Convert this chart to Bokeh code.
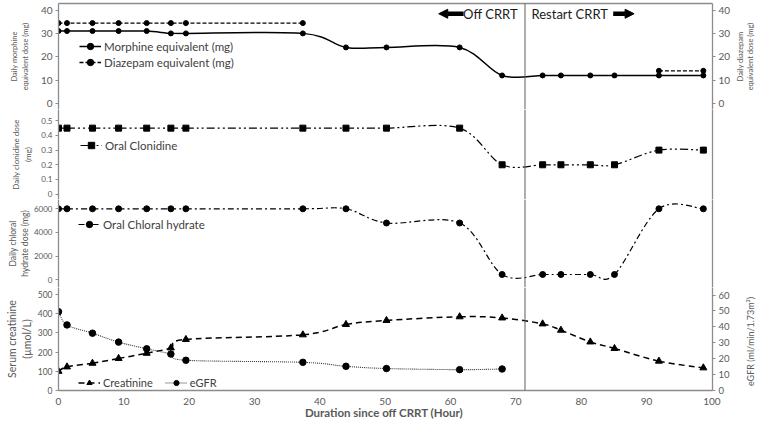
import math
from bokeh.plotting import figure
from bokeh.models import (Range1d, LinearAxis, FixedTicker, Span, Legend, LegendItem,
                          Label, Arrow, NormalHead, ColumnDataSource)
from bokeh.layouts import column, row
from bokeh.embed import file_html
from bokeh.resources import INLINE

# ---------------- data ----------------
hours = [0, 1.3, 5.2, 9.2, 13.5, 17.2, 19.5, 37.4, 44.0, 50.2, 61.4, 67.9,
         74.1, 76.9, 81.4, 85.1, 91.9, 98.7]
morphine = [31, 31, 31, 31, 31, 30, 30, 30, 24, 24, 24, 12, 12, 12, 12, 12, 12, 12]
diazepam = [34.4, 34.4, 34.4, 34.4, 34.4, 34.4, 34.4, 34.4, None, None, None, None,
            None, None, None, None, 14, 14]
clonidine = [0.45, 0.45, 0.45, 0.45, 0.45, 0.45, 0.45, 0.45, 0.45, 0.45, 0.45, 0.2,
             0.2, 0.2, 0.2, 0.2, 0.3, 0.3]
chloral = [6000, 6000, 6000, 6000, 6000, 6000, 6000, 6000, 6000, 4800, 4800, 450,
           450, 450, 450, 450, 6000, 6000]
creatinine = [100, 123, 142, 167, 194, 222, 266, 290, 344, 365, 384, 378,
              347, 314, 253, 219, 153, 118]
egfr = [49.5, 41.2, 36.0, 30.4, 26.2, 22.9, 19.0, 17.7, 15.2, 13.8, 13.1, 13.5]
egfr_hours = hours[:len(egfr)]
off_crrt_hour = 71.4

x_ticks = [0, 10, 20, 30, 40, 50, 60, 70, 80, 90, 100]
morph_ticks = [0, 10, 20, 30, 40]
clon_ticks = [0, 0.1, 0.2, 0.3, 0.4, 0.5]
chloral_ticks = [0, 2000, 4000, 6000]
creat_ticks = [0, 100, 200, 300, 400, 500]
egfr_ticks = [0, 10, 20, 30, 40, 50, 60]

# ---------------- style ----------------
FONT = "Lato"
GRAY = "#595959"
AX = "#8c8c8c"
W = 734          # main column width; a narrow strip on the right holds the right titles
SIDE_W = 26
TOTAL_H = 425
BL, BR = 58, 22
X_RANGE = Range1d(0, 100.1)
NAN = float("nan")


def rng(top, bottom, v0, p0, v1, p1):
    k = (p0 - p1) / (v1 - v0)
    return Range1d(v0 - (bottom - p0) / k, v0 + (p0 - top) / k)


def smooth(p, xs, ys, **kw):
    pts = [(x, y) for x, y in zip(xs, ys) if y is not None]
    n = len(pts)
    d = dict(x0=[], y0=[], x1=[], y1=[], cx0=[], cy0=[], cx1=[], cy1=[])
    for i in range(n - 1):
        pa, pb, pc, pd = pts[max(i - 1, 0)], pts[i], pts[i + 1], pts[min(i + 2, n - 1)]
        d["x0"].append(pb[0]); d["y0"].append(pb[1])
        d["x1"].append(pc[0]); d["y1"].append(pc[1])
        d["cx0"].append(pb[0] + (pc[0] - pa[0]) / 6)
        d["cy0"].append(pb[1] + (pc[1] - pa[1]) / 6)
        d["cx1"].append(pc[0] - (pd[0] - pb[0]) / 6)
        d["cy1"].append(pc[1] - (pd[1] - pb[1]) / 6)
    return p.bezier(x0="x0", y0="y0", x1="x1", y1="y1", cx0="cx0", cy0="cy0",
                    cx1="cx1", cy1="cy1", source=ColumnDataSource(d), **kw)


def style_axis(ax, ticks, tick_size, label=None, label_size="8px", standoff=0):
    ax.ticker = FixedTicker(ticks=ticks)
    ax.axis_line_color = AX
    ax.axis_line_width = 1.3
    ax.major_tick_line_color = AX
    ax.major_tick_out = 3
    ax.major_tick_in = 0
    ax.minor_tick_line_color = None
    ax.major_label_standoff = 3
    ax.major_label_text_font = FONT
    ax.major_label_text_font_size = tick_size
    ax.major_label_text_color = GRAY
    if label:
        ax.axis_label = label
        ax.axis_label_text_font = FONT
        ax.axis_label_text_font_size = label_size
        ax.axis_label_text_font_style = "normal"
        ax.axis_label_text_color = GRAY
        ax.axis_label_standoff = standoff


def blank_axis():
    return LinearAxis(ticker=FixedTicker(ticks=[]), axis_line_color=AX, axis_line_width=1.3,
                      major_tick_out=0, major_tick_in=0, minor_tick_line_color=None,
                      major_label_text_font_size="0px", major_label_standoff=0)


def make_fig(h, yr, xloc=None, top=0, bottom=0):
    p = figure(width=W, height=h, x_range=X_RANGE, y_range=yr, output_backend="svg",
               toolbar_location=None, x_axis_location=xloc, min_border_left=BL,
               min_border_right=BR, min_border_top=top, min_border_bottom=bottom)
    p.outline_line_color = None
    p.xgrid.visible = False
    p.ygrid.visible = False
    p.background_fill_color = "white"
    p.border_fill_color = "white"
    p.add_layout(Span(location=off_crrt_hour, dimension="height", line_color="#606060",
                      line_width=1))
    return p


def legend(p, items, loc, size="11.5px", orientation="vertical", gh=16):
    lg = Legend(items=items, location=loc, orientation=orientation, padding=0, margin=0,
                spacing=12 if orientation == "horizontal" else 0,
                border_line_color=None, background_fill_alpha=0,
                label_text_font=FONT, label_text_font_size=size, label_text_color="#404040",
                glyph_width=22, glyph_height=gh, label_height=gh, label_standoff=3)
    p.add_layout(lg)


# ---------- panel 1 : morphine / diazepam ----------
p1 = make_fig(109, rng(3, 109, 0, 103, 40, 9.5), top=3)
style_axis(p1.yaxis[0], morph_ticks, "10px", "Daily morphine\nequivalent dose (mg)", "7.5px", 8)
r_ax = LinearAxis()
style_axis(r_ax, morph_ticks, "10px")
p1.add_layout(r_ax, "right")
p1.add_layout(blank_axis(), "above")

m_line = smooth(p1, hours, morphine, line_color="black", line_width=1.5)
m_pts = p1.scatter(hours, morphine, size=5, color="black")
d_y = [NAN if v is None else v for v in diazepam]
d_line = p1.line(hours, d_y, line_color="black", line_width=1.3, line_dash="4 2")
d_pts = p1.scatter(hours, d_y, size=5, color="black")
m_proxy = p1.line([NAN], [NAN], line_color="black", line_width=1.5)
legend(p1, [LegendItem(label="Morphine equivalent (mg)", renderers=[m_proxy, m_pts]),
            LegendItem(label="Diazepam equivalent (mg)", renderers=[d_line, d_pts])], (21, 39))

ytxt = 38.4
p1.add_layout(Label(x=off_crrt_hour - 1.1, y=ytxt, text="Off CRRT", text_align="right",
                    text_baseline="middle", text_font=FONT, text_font_size="13px",
                    text_color="#1a1a1a"))
p1.add_layout(Label(x=off_crrt_hour + 1.0, y=ytxt, text="Restart CRRT", text_align="left",
                    text_baseline="middle", text_font=FONT, text_font_size="13px",
                    text_color="#1a1a1a"))
p1.add_layout(Arrow(x_start=62.0, y_start=ytxt, x_end=58.2, y_end=ytxt, line_width=4.5,
                    line_color="black",
                    end=NormalHead(size=9, fill_color="black", line_color="black", line_width=1)))
p1.add_layout(Arrow(x_start=84.9, y_start=ytxt, x_end=88.1, y_end=ytxt, line_width=4.5,
                    line_color="black",
                    end=NormalHead(size=9, fill_color="black", line_color="black", line_width=1)))

# ---------- panel 2 : clonidine ----------
p2 = make_fig(90, rng(109, 199, 0, 193.6, 0.5, 120.3))
style_axis(p2.yaxis[0], clon_ticks, "8px", "Daily clonidine dose\n(mg)", "8px", 5)
p2.add_layout(blank_axis(), "right")
smooth(p2, hours, clonidine, line_color="black", line_width=1.2, line_dash="8 3 2 3 2 3")
c_pts = p2.scatter(hours, clonidine, marker="square", size=6, color="black")
c_proxy = p2.line([NAN], [NAN], line_color="black", line_width=1.2, line_dash="8 3 2 3 2 3")
legend(p2, [LegendItem(label="Oral Clonidine", renderers=[c_proxy, c_pts])], (22, 46))

# ---------- panel 3 : chloral hydrate ----------
p3 = make_fig(88, rng(199, 287, 0, 279.3, 6000, 208.3))
style_axis(p3.yaxis[0], chloral_ticks, "8px", "Daily chloral\nhydrate dose (mg)", "8.5px", 1)
p3.add_layout(blank_axis(), "right")
smooth(p3, hours, chloral, line_color="black", line_width=1.2, line_dash="6 3 2 3")
ch_pts = p3.scatter(hours, chloral, size=6, color="black")
ch_proxy = p3.line([NAN], [NAN], line_color="black", line_width=1.2, line_dash="6 3 2 3")
legend(p3, [LegendItem(label="Oral Chloral hydrate", renderers=[ch_proxy, ch_pts])], (20, 55))

# ---------- panel 4 : creatinine / eGFR ----------
p4 = make_fig(TOTAL_H - 109 - 90 - 88, rng(287, 390, 0, 390, 500, 294), xloc="below", bottom=35)
p4.extra_y_ranges = {"egfr": rng(287, 390, 0, 390, 60, 294.5)}
style_axis(p4.yaxis[0], creat_ticks, "8.5px", "Serum creatinine\n(µmol/L)", "10.5px", 2)
e_ax = LinearAxis(y_range_name="egfr")
style_axis(e_ax, egfr_ticks, "9.5px")
p4.add_layout(e_ax, "right")
xa = p4.xaxis[0]
xa.ticker = FixedTicker(ticks=x_ticks)
xa.axis_line_color = AX
xa.axis_line_width = 1.3
xa.major_tick_out = 0
xa.major_tick_in = 0
xa.minor_tick_line_color = None
xa.major_label_standoff = 7
xa.major_label_text_font = FONT
xa.major_label_text_font_size = "10px"
xa.major_label_text_color = GRAY
xa.axis_label = "Duration  since off CRRT (Hour)"
xa.axis_label_text_font = FONT
xa.axis_label_text_font_size = "11.5px"
xa.axis_label_text_font_style = "bold"
xa.axis_label_text_color = GRAY
xa.axis_label_standoff = -2

smooth(p4, hours, creatinine, line_color="black", line_width=1.5, line_dash="6 4")
cr_pts = p4.scatter(hours, creatinine, marker="triangle", size=7, color="black")
smooth(p4, egfr_hours, egfr, line_color="#333333", line_width=1.1, line_dash="1 1",
       y_range_name="egfr")
e_pts = p4.scatter(egfr_hours, egfr, size=6.5, color="black", y_range_name="egfr")
cr_proxy = p4.line([NAN], [NAN], line_color="black", line_width=1.5, line_dash="6 4")
e_proxy = p4.line([NAN], [NAN], line_color="#333333", line_width=1.1, line_dash="1 1")
legend(p4, [LegendItem(label="Creatinine", renderers=[cr_proxy, cr_pts]),
            LegendItem(label="eGFR", renderers=[e_proxy, e_pts])], (20, 1),
       size="11px", orientation="horizontal", gh=13)

# ---------- right-hand strip with the right-axis titles (read bottom to top) ----------
side = figure(width=SIDE_W, height=TOTAL_H, x_range=Range1d(0, SIDE_W),
              y_range=Range1d(0, TOTAL_H), output_backend="svg", toolbar_location=None,
              x_axis_location=None, y_axis_location=None, min_border=0)
side.outline_line_color = None
side.xgrid.visible = False
side.ygrid.visible = False
side.add_layout(Label(x=11, y=TOTAL_H - 56, x_units="screen", y_units="screen",
                      text="Daily diazepam\nequivalent dose (mg)", angle=math.pi / 2,
                      text_align="center", text_baseline="middle", text_font=FONT,
                      text_font_size="7.5px", text_color=GRAY))
side.add_layout(Label(x=16, y=TOTAL_H - 341, x_units="screen", y_units="screen",
                      text="eGFR (ml/min/1.73m²)", angle=math.pi / 2,
                      text_align="center", text_baseline="middle", text_font=FONT,
                      text_font_size="9px", text_color=GRAY))

layout = row(column(p1, p2, p3, p4, spacing=0), side, spacing=0)
open("out.html", "w").write(file_html(layout, INLINE))
